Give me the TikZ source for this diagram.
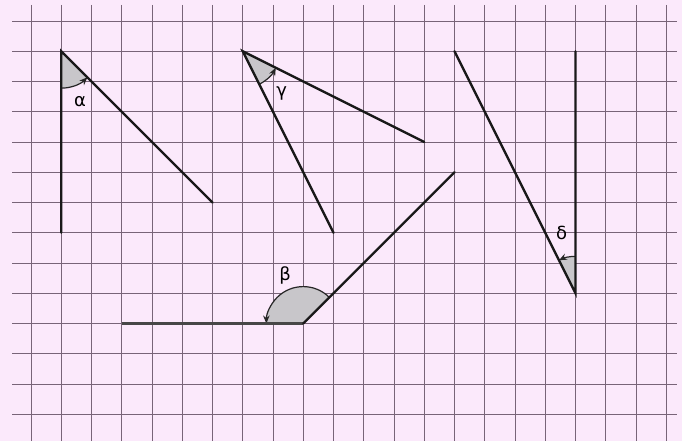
\documentclass[tikz,border=0pt]{standalone}
\usepackage{fontspec}
\setmainfont{DejaVu Sans}
\usetikzlibrary{arrows.meta}
\definecolor{paper}{RGB}{251,233,251}
\definecolor{gridc}{RGB}{120,100,120}
\definecolor{wedgec}{RGB}{200,198,202}
\tikzset{
  gridline/.style={draw=gridc, line width=0.9pt},
  side/.style={draw=black!90, line width=2.3pt, line cap=round},
  thickside/.style={draw=black!72, line width=3pt},
  wedge/.style={fill=wedgec},
  anglearrow/.style={draw=black!85, line width=1.2pt, -{Stealth[length=8pt,width=6.5pt]}},
  lbl/.style={font=\fontsize{18}{18}\selectfont, inner sep=0pt}
}
\begin{document}
\begin{tikzpicture}[x=30.25pt,y=30.25pt]
\def\r{1.22}
\useasboundingbox[fill=paper] (-1.0248,0.6942) rectangle (21.521,-13.884);
% grid
\foreach \i in {0,...,21} \draw[gridline] (\i,0.53) -- (\i,-13.884);
\foreach \j in {0,...,13} \draw[gridline] (-0.628,-\j) -- (21.355,-\j);
% alpha
\coordinate (A) at (1,-1);
\coordinate (A1) at (1,-7);
\coordinate (A2) at (6,-6);
\fill[wedge] (A) -- ([shift={(270:\r)}]A) arc[start angle=270,end angle=315,radius=\r] -- cycle;
\draw[anglearrow] ([shift={(270:\r)}]A) arc[start angle=270,end angle=315,radius=\r];
\draw[side] (A1) -- (A) -- (A2);
\node[lbl] (la) at (1.62,-2.67) {α};
% gamma
\coordinate (G) at (7,-1);
\coordinate (G1) at (10,-7);
\coordinate (G2) at (13,-4);
\fill[wedge] (G) -- ([shift={(296.565:\r)}]G) arc[start angle=296.565,end angle=333.435,radius=\r] -- cycle;
\draw[anglearrow] ([shift={(296.565:\r)}]G) arc[start angle=296.565,end angle=333.435,radius=\r];
\draw[side] (G1) -- (G) -- (G2);
\node[lbl] (lg) at (8.29,-2.39) {γ};
% beta
\coordinate (B) at (9,-10);
\coordinate (B1) at (3,-10);
\coordinate (B2) at (14,-5);
\fill[wedge] (B) -- ([shift={(45:\r)}]B) arc[start angle=45,end angle=180,radius=\r] -- cycle;
\draw[anglearrow] ([shift={(45:\r)}]B) arc[start angle=45,end angle=180,radius=\r];
\draw[thickside] (B1) -- (B);
\draw[side] (B) -- (B2);
\node[lbl] (lb) at (8.40,-8.40) {β};
% delta
\coordinate (D) at (18,-9);
\coordinate (D1) at (18,-1);
\coordinate (D2) at (14,-1);
\fill[wedge] (D) -- ([shift={(90:\r)}]D) arc[start angle=90,end angle=116.565,radius=\r] -- cycle;
\draw[anglearrow] ([shift={(90:\r)}]D) arc[start angle=90,end angle=116.565,radius=\r];
\draw[side] (D1) -- (D) -- (D2);
\node[lbl] (ld) at (17.54,-7.02) {δ};
\end{tikzpicture}
\end{document}
